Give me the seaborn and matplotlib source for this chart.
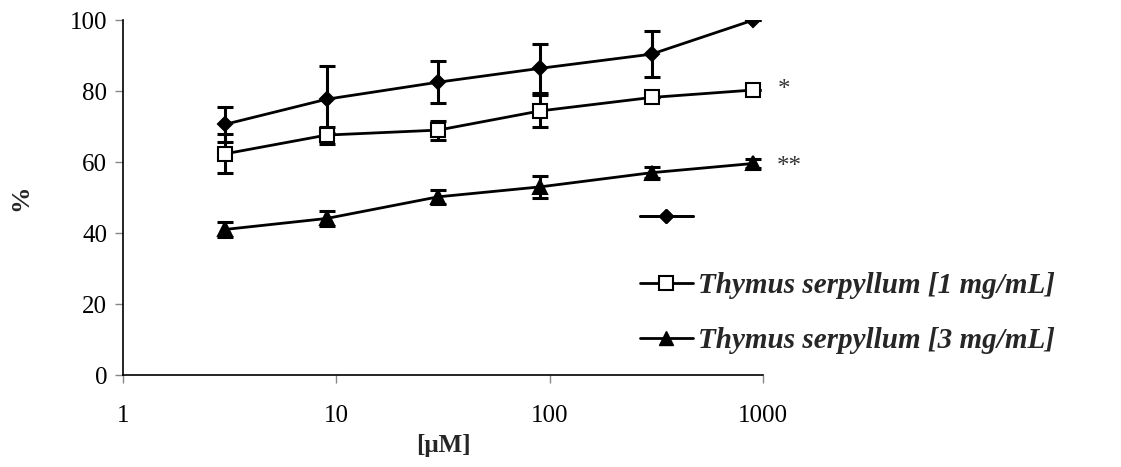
import numpy as np
import pandas as pd
import matplotlib
matplotlib.use("Agg")
import matplotlib.pyplot as plt
import seaborn as sns
from matplotlib.lines import Line2D

# Concentrations (µM)
conc = [3, 9, 30, 90, 300, 900]

# Control series (filled diamonds)
control_mean = [70.6, 77.7, 82.5, 86.4, 90.4, 100.0]
control_err = [5.0, 9.5, 6.0, 7.0, 6.5, 0.0]

# Thymus serpyllum 1 mg/mL (open squares)
ts1_mean = [62.3, 67.6, 69.0, 74.4, 78.2, 80.3]
ts1_err = [5.5, 2.4, 2.7, 4.6, 0.0, 0.0]

# Thymus serpyllum 3 mg/mL (filled triangles)
ts3_mean = [41.0, 44.1, 50.2, 53.0, 57.0, 59.6]
ts3_err = [2.0, 2.1, 2.0, 3.2, 1.6, 1.2]

labels = ["", "Thymus serpyllum [1 mg/mL]", "Thymus serpyllum [3 mg/mL]"]
x_ticks = [1, 10, 100, 1000]
y_ticks = [0, 20, 40, 60, 80, 100]

sns.set_style("white")
plt.rcParams["font.family"] = ["Liberation Serif", "DejaVu Serif"]

fig = plt.figure(figsize=(11.21, 4.67), dpi=100)
ax = fig.add_axes([0.1097, 0.197, 0.571, 0.760])

series = [
    (control_mean, control_err, "D", "black", 7.5),
    (ts1_mean, ts1_err, "s", "white", 10),
    (ts3_mean, ts3_err, "^", "black", 10),
]

for (mean, err, mk, face, ms) in series:
    df = pd.DataFrame({"conc": conc, "val": mean})
    ax.errorbar(conc, mean, yerr=err, fmt="none", ecolor="black",
                elinewidth=2.2, capsize=6, capthick=2.2, zorder=2)
    sns.lineplot(data=df, x="conc", y="val", ax=ax, color="black",
                 linewidth=2, marker=mk, markersize=ms,
                 markerfacecolor=face, markeredgecolor="black",
                 markeredgewidth=1.5, zorder=3)

ax.set_xscale("log")
ax.set_xlim(1, 1000)
ax.set_ylim(0, 100)
ax.set_xticks(x_ticks)
ax.set_xticklabels([str(t) for t in x_ticks])
ax.xaxis.set_minor_locator(matplotlib.ticker.NullLocator())
ax.set_yticks(y_ticks)

for s in ["top", "right"]:
    ax.spines[s].set_visible(False)
for s in ["left", "bottom"]:
    ax.spines[s].set_color("black")
    ax.spines[s].set_linewidth(1.2)

ax.tick_params(axis="both", which="major", direction="out", length=5.5,
               width=1, color="#888888", labelsize=18, labelcolor="black",
               bottom=True, left=True)
ax.tick_params(axis="x", pad=16)
ax.tick_params(axis="y", pad=6)

ax.set_xlabel("[μM]", fontsize=18, fontweight="bold", labelpad=5)
ax.set_ylabel("%", fontsize=19, fontweight="bold", labelpad=27)

# significance marks
ax.text(1260, ts1_mean[-1], "*", fontsize=18, color="#333333",
        ha="center", va="center")
ax.text(1330, ts3_mean[-1] - 1.0, "**", fontsize=18, color="#333333",
        ha="center", va="center")

handles = [
    Line2D([], [], color="black", lw=2, marker="D", ms=7.5,
           markerfacecolor="black", markeredgecolor="black"),
    Line2D([], [], color="black", lw=2, marker="s", ms=9.5,
           markerfacecolor="white", markeredgecolor="black", markeredgewidth=1.5),
    Line2D([], [], color="black", lw=2, marker="^", ms=10,
           markerfacecolor="black", markeredgecolor="black"),
]
leg_prop = {"family": ["Liberation Serif"], "size": 21,
            "weight": "bold", "style": "italic"}
leg_kw = dict(frameon=False, prop=leg_prop, handlelength=1.8,
              handletextpad=0.17, labelspacing=0.95, borderaxespad=0,
              borderpad=0, loc="center left")

leg1 = fig.legend(handles[:1], labels[:1],
                  bbox_to_anchor=(0.571, 1 - 219 / 467), **leg_kw)
fig.add_artist(leg1)
leg2 = fig.legend(handles[1:], labels[1:],
                  bbox_to_anchor=(0.571, 1 - 313 / 467), **leg_kw)

fig.savefig("out.png", dpi=100)
